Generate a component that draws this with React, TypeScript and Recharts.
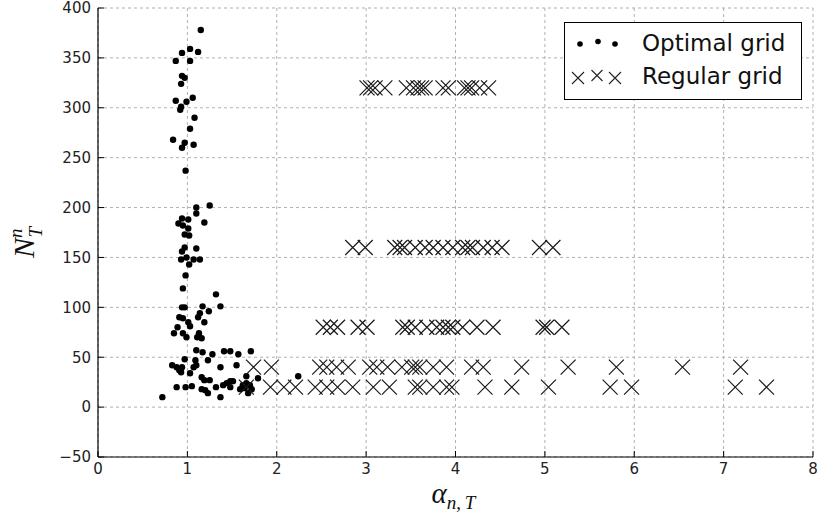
import React from 'react';
import { ScatterChart, Scatter, XAxis, YAxis, CartesianGrid, Legend } from 'recharts';

const xTicks = [0, 1, 2, 3, 4, 5, 6, 7, 8];
const yTicks = [-50, 0, 50, 100, 150, 200, 250, 300, 350, 400];

// optimal grid: [alpha, N]
const optimalHigh: [number, number][] = [
  [1.15, 378], [1.03, 359], [0.94, 355], [1.12, 356], [0.87, 347], [1.03, 347],
  [0.94, 332], [0.97, 330], [0.93, 324], [0.87, 307], [1.06, 310], [0.99, 306],
  [0.93, 301], [0.92, 298], [1.08, 290], [1.03, 279], [0.84, 268], [0.97, 265],
  [0.94, 260], [1.07, 263], [0.98, 237], [1.10, 200], [1.25, 202], [1.10, 194],
  [0.94, 189], [1.01, 188], [0.90, 184], [1.19, 185], [0.95, 182], [1.01, 179],
  [0.97, 173], [1.02, 172], [0.97, 160], [1.10, 159], [0.94, 156], [0.93, 148],
  [0.99, 150], [1.07, 148], [1.14, 148], [1.02, 143], [0.98, 132], [0.95, 119],
];
const optimalMid: [number, number][] = [
  [1.32, 113], [1.37, 101], [0.94, 100], [0.97, 100], [1.17, 101], [1.24, 96],
  [1.14, 94], [1.12, 90], [0.91, 90], [0.95, 89], [1.01, 85], [1.19, 85],
  [0.89, 80], [1.03, 81], [0.85, 74], [0.95, 74], [1.13, 74], [0.99, 70],
  [1.11, 70], [1.16, 69],
];
const optimalLow: [number, number][] = [
  [1.10, 57], [1.17, 55], [1.28, 53], [1.41, 56], [1.48, 56], [1.57, 53],
  [1.71, 56], [0.97, 48], [1.09, 47], [1.23, 47], [0.83, 42], [0.88, 40],
  [0.94, 40], [1.10, 42], [1.07, 40], [1.37, 40], [1.55, 42], [0.91, 37],
  [0.93, 35], [1.03, 34], [1.16, 30], [1.66, 31], [1.19, 27], [1.25, 27],
  [1.79, 29], [2.24, 31], [1.48, 26], [1.51, 26], [1.44, 24], [1.40, 22],
  [1.48, 20], [1.66, 24], [1.70, 22], [0.88, 20], [0.98, 20], [1.05, 21],
  [1.32, 20], [1.16, 18], [1.20, 17], [1.23, 14], [1.59, 18], [1.64, 19],
  [1.68, 14], [1.37, 10], [0.72, 10], [1.62, 22], [1.72, 18],
];

// regular grid: alpha values for each N level
const regular320 = [3.01, 3.05, 3.10, 3.21, 3.45, 3.53, 3.58, 3.62, 3.66, 3.86, 3.92, 4.10, 4.14, 4.18, 4.27, 4.37];
const regular160 = [2.85, 2.99, 3.32, 3.38, 3.43, 3.55, 3.66, 3.75, 3.86, 3.97, 4.08, 4.14, 4.19, 4.31, 4.41, 4.52, 4.94, 5.09];
const regular80 = [2.52, 2.60, 2.68, 2.91, 3.01, 3.41, 3.46, 3.55, 3.68, 3.79, 3.86, 3.92, 3.97, 4.08, 4.24, 4.42, 4.98, 5.02, 5.19];
const regular40 = [1.74, 1.94, 2.48, 2.56, 2.67, 2.80, 3.04, 3.12, 3.24, 3.40, 3.51, 3.55, 3.60, 3.75, 3.90, 4.18, 4.31, 4.74, 5.26, 5.80, 6.54, 7.19];
const regular20 = [1.66, 1.93, 2.08, 2.21, 2.43, 2.56, 2.68, 2.85, 3.08, 3.26, 3.55, 3.60, 3.75, 3.90, 3.96, 4.33, 4.63, 5.04, 5.73, 5.97, 7.13, 7.48];

const optimalData = [...optimalHigh, ...optimalMid, ...optimalLow].map(([x, y]) => ({ x, y }));
const regularData = [
  ...regular320.map(x => ({ x, y: 320 })),
  ...regular160.map(x => ({ x, y: 160 })),
  ...regular80.map(x => ({ x, y: 80 })),
  ...regular40.map(x => ({ x, y: 40 })),
  ...regular20.map(x => ({ x, y: 20 })),
];

const tickStyle = { fill: '#222', fontSize: 15, fontFamily: 'DejaVu Sans' };
const frame = { stroke: '#000', strokeWidth: 1.2 };

const DotShape = (p: any) => <circle cx={p.cx} cy={p.cy} r={3.2} fill="#000" />;

const cross = (cx: number, cy: number, s: number) =>
  `M${cx - s},${cy - s}L${cx + s},${cy + s}M${cx - s},${cy + s}L${cx + s},${cy - s}`;

const CrossShape = (p: any) => (
  <path d={cross(p.cx, p.cy, 7.5)} stroke="#1a1a1a" strokeWidth={1.2} fill="none" />
);

const renderLegend = () => (
  <svg width={238} height={78} style={{ display: 'block' }}>
    <rect x={0.5} y={0.5} width={237} height={77} fill="#fff" stroke="#000" strokeWidth={1} />
    <circle cx={16} cy={22} r={2.8} fill="#000" />
    <circle cx={34} cy={19.5} r={2.8} fill="#000" />
    <circle cx={51} cy={22} r={2.8} fill="#000" />
    <path d={cross(14, 56, 6) + cross(33, 53.5, 5.5) + cross(51, 56, 6)} stroke="#222" strokeWidth={1.1} fill="none" />
    <text x={78} y={29} fontSize={23} fontFamily="DejaVu Sans" fill="#111">Optimal grid</text>
    <text x={78} y={62} fontSize={23} fontFamily="DejaVu Sans" fill="#111">Regular grid</text>
  </svg>
);

const YLabel = (props: any) => {
  const vb = props.viewBox || { x: 0, y: 8, height: 449 };
  const cx = 34;
  const cy = vb.y + vb.height / 2 + 10;
  return (
    <text
      x={cx}
      y={cy}
      transform={`rotate(-90, ${cx}, ${cy})`}
      textAnchor="middle"
      fontFamily="Liberation Serif"
      fontStyle="italic"
      fontSize={30}
      fill="#111"
    >
      N
      <tspan fontSize={19} dy={-12}>n</tspan>
      <tspan fontSize={19} dx={-9} dy={20}>T</tspan>
    </text>
  );
};

const XLabel = (props: any) => {
  const vb = props.viewBox || { x: 98, width: 715, y: 457 };
  const cx = vb.x + vb.width / 2 - 2;
  return (
    <text x={cx} y={503} textAnchor="middle" fontFamily="Liberation Serif" fontStyle="italic" fontSize={29} fill="#111">
      α
      <tspan fontSize={19} dy={6}>n,&#8201;T</tspan>
    </text>
  );
};

const fmtY = (v: number) => (v < 0 ? '\u2212' + Math.abs(v) : String(v));

export default function App() {
  return (
    <div style={{ position: 'absolute', left: 0, top: 0, width: 817, height: 519, background: '#fff' }}>
      <ScatterChart width={817} height={519} margin={{ top: 8, right: 4, bottom: 0, left: 0 }}>
        <CartesianGrid stroke="#b0b0b0" strokeDasharray="3 3" />
        <XAxis
          xAxisId={0}
          type="number"
          dataKey="x"
          domain={[0, 8]}
          ticks={xTicks}
          interval={0}
          height={62}
          allowDataOverflow
          axisLine={frame}
          tickLine={{ stroke: '#000' }}
          tickSize={-6}
          tickMargin={12}
          tick={tickStyle}
          label={{ content: XLabel }}
        />
        <XAxis
          xAxisId="top"
          orientation="top"
          type="number"
          domain={[0, 8]}
          ticks={xTicks}
          interval={0}
          height={0}
          allowDataOverflow
          axisLine={frame}
          tickLine={{ stroke: '#000' }}
          tickSize={-6}
          tick={false}
        />
        <YAxis
          yAxisId={0}
          type="number"
          dataKey="y"
          domain={[-50, 400]}
          ticks={yTicks}
          interval={0}
          width={98}
          allowDataOverflow
          axisLine={frame}
          tickLine={{ stroke: '#000' }}
          tickSize={-6}
          tickMargin={13}
          tick={tickStyle}
          tickFormatter={fmtY}
          label={{ content: YLabel }}
        />
        <YAxis
          yAxisId="right"
          orientation="right"
          type="number"
          domain={[-50, 400]}
          ticks={yTicks}
          interval={0}
          width={0}
          allowDataOverflow
          axisLine={frame}
          tickLine={{ stroke: '#000' }}
          tickSize={-6}
          tick={false}
        />
        <Legend
          layout="horizontal"
          verticalAlign="middle"
          align="center"
          content={renderLegend}
          wrapperStyle={{ left: 564, top: 22, width: 238, height: 78 }}
        />
        <Scatter name="Optimal grid" data={optimalData} xAxisId={0} yAxisId={0} shape={DotShape} isAnimationActive={false} />
        <Scatter name="Regular grid" data={regularData} xAxisId={0} yAxisId={0} shape={CrossShape} isAnimationActive={false} />
      </ScatterChart>
    </div>
  );
}
